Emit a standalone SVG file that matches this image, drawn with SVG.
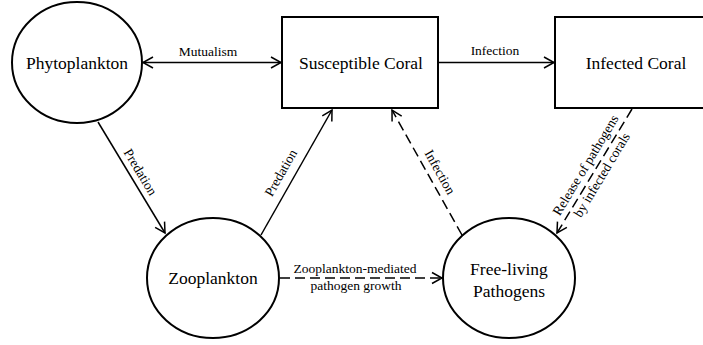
<svg xmlns="http://www.w3.org/2000/svg" width="703" height="345" viewBox="0 0 703 345">
<style>
.node{fill:#fff;stroke:#000;stroke-width:2}
.edge{fill:none;stroke:#000;stroke-width:1.5;marker-end:url(#arr)}
.dash{stroke-dasharray:10,5}
</style>
<defs>
<marker id="arr" markerUnits="userSpaceOnUse" markerWidth="14" markerHeight="14" viewBox="-12 -7 14 14" refX="0" refY="0" orient="auto-start-reverse">
<path d="M-10,-5.5 L0,0 L-10,5.5" fill="none" stroke="#000" stroke-width="1.5"/>
</marker>
</defs>
<rect width="703" height="345" fill="#fff"/>
<g id="connectors">
<line class="edge" x1="143" y1="62.5" x2="281" y2="62.5" style="marker-start:url(#arr)"/>
<line class="edge" x1="439" y1="62.5" x2="554" y2="62.5"/>
<line class="edge" x1="98" y1="122" x2="165" y2="233"/>
<line class="edge" x1="261" y1="235" x2="332" y2="110"/>
<line class="edge dash" x1="462" y1="235" x2="392" y2="110"/>
<line class="edge dash" x1="632" y1="109" x2="557" y2="233"/>
<line class="edge dash" x1="280" y1="278" x2="442" y2="278"/>
<g font-family="Liberation Serif, serif" font-size="13.5" text-anchor="middle" fill="#000">
<text x="208" y="56">Mutualism</text>
<text x="495" y="55">Infection</text>
<text transform="translate(131.5,177.5) rotate(58.9)" y="-6">Predation</text>
<text transform="translate(296.5,172.5) rotate(-60.4)" x="-8" y="-9">Predation</text>
<text transform="translate(427,172.5) rotate(60.75)" x="6" y="-7">Infection</text>
<g transform="translate(594.5,170.5) rotate(-58.9)">
<text y="-6">Release of pathogens</text>
<text y="13">by infected corals</text>
</g>
<text x="355" y="272.5">Zooplankton-mediated</text>
<text x="356" y="290">pathogen growth</text>
</g>
</g>
<g id="phytoplankton">
<ellipse class="node" cx="77" cy="62.5" rx="65" ry="60.5"/>
<text font-family="serif" font-size="17.5" text-anchor="middle" x="77" y="68.5">Phytoplankton</text>
</g>
<g id="susceptible-coral">
<rect class="node" x="282" y="17" width="156" height="91"/>
<text font-family="serif" font-size="17.5" text-anchor="middle" x="361" y="68.5">Susceptible Coral</text>
</g>
<g id="infected-coral">
<rect class="node" x="555" y="17" width="156" height="91"/>
<text font-family="serif" font-size="17.5" text-anchor="middle" x="636" y="68.5">Infected Coral</text>
</g>
<g id="zooplankton">
<ellipse class="node" cx="213" cy="278" rx="66" ry="60"/>
<text font-family="serif" font-size="17.5" text-anchor="middle" x="213" y="284">Zooplankton</text>
</g>
<g id="free-living-pathogens">
<ellipse class="node" cx="509" cy="278" rx="66" ry="60"/>
<text font-family="serif" font-size="17.5" text-anchor="middle" x="509" y="275">Free-living</text>
<text font-family="serif" font-size="17.5" text-anchor="middle" x="509" y="297">Pathogens</text>
</g>
</svg>
